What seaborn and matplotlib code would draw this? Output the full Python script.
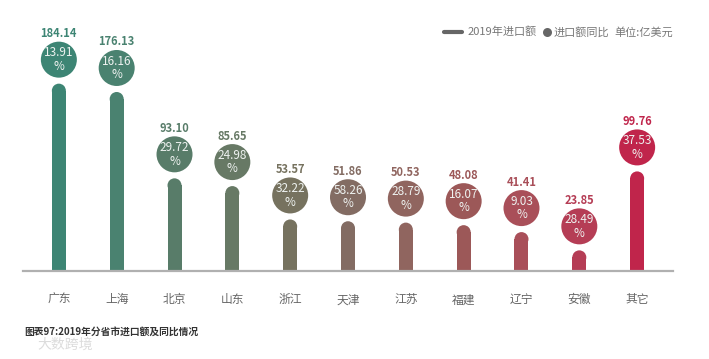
import numpy as np
import pandas as pd
import seaborn as sns
import matplotlib
matplotlib.use("Agg")
import matplotlib.pyplot as plt
from matplotlib.lines import Line2D
from matplotlib.transforms import offset_copy

# ---- data ----
provinces = ["广东", "上海", "北京", "山东", "浙江", "天津", "江苏", "福建", "辽宁", "安徽", "其它"]
import_2019 = [184.14, 176.13, 93.10, 85.65, 53.57, 51.86, 50.53, 48.08, 41.41, 23.85, 99.76]
yoy_pct = [13.91, 16.16, 29.72, 24.98, 32.22, 58.26, 28.79, 16.07, 9.03, 28.49, 37.53]
colors = ["#3d8574", "#4a8270", "#587c69", "#677965", "#76725f", "#836c63",
          "#90655f", "#9c5858", "#a94f59", "#b53d55", "#c0254b"]
legend_labels = ["2019年进口额", "进口额同比", "单位:亿美元"]
caption = "图表97:2019年分省市进口额及同比情况"
watermark = "大数跨境"

sns.set_style("white")
plt.rcParams["font.family"] = ["Noto Sans CJK SC", "DejaVu Sans"]

W, H, DPI = 709, 359, 100
fig = plt.figure(figsize=(W / DPI, H / DPI), dpi=DPI)

# axes geometry in pixels
base_px = 271          # baseline y (from top)
left_px, right_px = 23, 673
px_per_unit = 1.04
y0 = 4.0
ax = fig.add_axes([left_px / W, (H - base_px) / H, (right_px - left_px) / W, base_px / H])

df = pd.DataFrame({"prov": provinces, "val": import_2019, "pct": yoy_pct})
sns.barplot(data=df, x="prov", y="val", hue="prov", palette=colors, legend=False,
            width=0.242, saturation=1, ax=ax, zorder=2)

ax.set_xlim(-0.62, 10.62)
ax.set_ylim(y0, y0 + base_px / px_per_unit)

# rounded tops: shorten bars by half-width, add a cap marker
r_units = 7 / px_per_unit
bar_pt = 14 * 72 / DPI
for i, (p, v) in enumerate(zip(ax.patches, import_2019)):
    p.set_height(v - r_units)
    p.set_linewidth(0)
xs = np.arange(len(provinces))
ax.scatter(xs, np.array(import_2019) - r_units, s=bar_pt ** 2, c=colors, marker="o",
           linewidths=0, zorder=3)

# circles for YoY percent
circ_tr = offset_copy(ax.transData, fig=fig, x=0, y=24 * 72 / DPI, units="points")
circ_pt = 36 * 72 / DPI
ax.scatter(xs, import_2019, s=circ_pt ** 2, c=colors, marker="o", linewidths=0,
           transform=circ_tr, zorder=4, clip_on=False)
for i, (v, pc) in enumerate(zip(import_2019, yoy_pct)):
    ax.text(i, v, f"{pc:.2f}\n%", transform=circ_tr, ha="center", va="center",
            fontsize=8.5, color="#eef2f0", linespacing=1.05, zorder=5, clip_on=False)

# value labels above circles
lab_tr = offset_copy(ax.transData, fig=fig, x=0, y=50 * 72 / DPI, units="points")
for i, v in enumerate(import_2019):
    ax.text(i, v, f"{v:.2f}", transform=lab_tr, ha="center", va="center",
            fontsize=8, fontweight="bold", color=colors[i], clip_on=False)

# axes styling
for s in ["top", "right", "left"]:
    ax.spines[s].set_visible(False)
ax.spines["bottom"].set_color("#b0b0b0")
ax.spines["bottom"].set_linewidth(1.6)
ax.spines["bottom"].set_zorder(6)
ax.set_yticks([])
ax.set_xlabel("")
ax.set_ylabel("")
ax.tick_params(axis="x", length=0, pad=16, labelsize=8.5, labelcolor="#666666")
ax.set_facecolor("none")

# legend
ly = 1 - 32 / H
fig.add_artist(Line2D([444 / W, 462 / W], [ly, ly], color="#666666", lw=3,
                      solid_capstyle="round", transform=fig.transFigure))
fig.text(468 / W, ly, legend_labels[0], fontsize=8, color="#777777", va="center", ha="left")
fig.add_artist(Line2D([547 / W], [ly], marker="o", markersize=9 * 72 / DPI,
                      color="#666666", markeredgewidth=0, transform=fig.transFigure))
fig.text(554 / W, ly, legend_labels[1], fontsize=8, color="#777777", va="center", ha="left")
fig.text(614 / W, ly, legend_labels[2], fontsize=8, color="#777777", va="center", ha="left")

# caption and watermark
fig.text(24 / W, 1 - 332 / H, caption, fontsize=7, fontweight="bold", color="#333333",
         va="center", ha="left")
fig.text(37 / W, 1 - 345 / H, watermark, fontsize=10, color="#dcdcdc",
         va="center", ha="left")

fig.savefig("out.png", dpi=DPI)
